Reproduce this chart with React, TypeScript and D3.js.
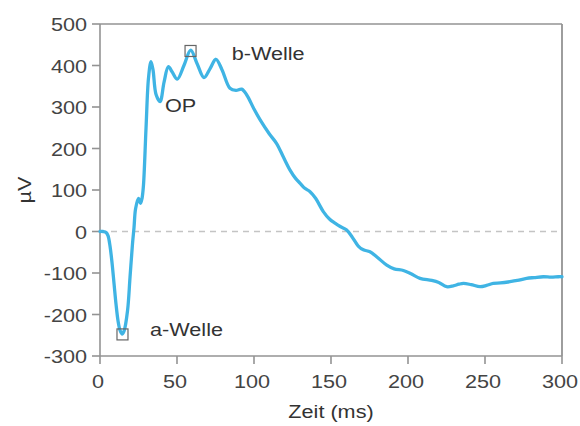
import React from "react";
import * as d3 from "d3";

const timeMs = [0, 2, 3.9, 5.2, 6.5, 7.8, 9.1, 10.4, 11.7, 13, 14.3, 15.6, 17.9, 19.5, 21.1, 22.1, 23.1, 25, 26.3, 27.3, 28.2, 29.9, 31.5, 33.1, 34.4, 36.4, 39, 41.6, 44.4, 46.8, 50.2, 54.5, 58.9, 63, 67.5, 71.4, 75.3, 79.2, 84.4, 88.3, 92, 95.3, 100, 104, 110, 114.7, 119, 123.4, 127, 130, 133, 136.4, 140, 145, 149, 152.6, 156, 160, 163.5, 167.7, 171, 175.3, 180, 186.2, 191, 197, 202, 207.8, 215.4, 220, 225.1, 229.4, 233, 236, 241, 246.8, 251, 255.4, 260, 266.2, 271, 277, 282, 287.9, 293, 297.6, 300];
const microVolt = [0, 0, -2, -10, -35, -75, -125, -175, -215, -238, -247, -240, -190, -110, -30, 10, 55, 80, 68, 80, 110, 250, 370, 409, 390, 330, 313, 360, 397, 385, 367, 400, 437, 405, 371, 392, 415, 390, 345, 340, 343, 329, 295, 269, 235, 212, 180, 148, 128, 116, 104, 96, 80, 48, 30, 20, 12, 4, -12, -35, -44, -49, -62, -81, -90, -94, -102, -113, -118, -123, -133, -131, -127, -125, -128, -133, -130, -125, -124, -121, -118, -113, -111, -109, -110, -109, -109];

const xTicks = [0, 50, 100, 150, 200, 250, 300];
const yTicks = [-300, -200, -100, 0, 100, 200, 300, 400, 500];

const markers = [
  { t: 14.6, v: -248 },
  { t: 58.8, v: 435 },
];
const labels = [
  { text: "b-Welle", t: 85.5, v: 413 },
  { text: "OP", t: 42.2, v: 289 },
  { text: "a-Welle", t: 32.5, v: -252 },
];

const W = 580;
const H = 426;
const SX = 1.17;
const FONT = "'Liberation Sans', Arial, Helvetica, sans-serif";

function T({ x, y, children, anchor = "start", fill = "#333", size = 18.5, rotate = 0, baseline = "auto" }: any) {
  return (
    <text
      transform={`translate(${x},${y}) rotate(${rotate}) scale(${SX},1)`}
      textAnchor={anchor}
      dominantBaseline={baseline}
      fill={fill}
      fontSize={size}
      fontFamily={FONT}
    >
      {children}
    </text>
  );
}

export default function App() {
  const x = d3.scaleLinear().domain([0, 300]).range([100, 562]);
  const y = d3.scaleLinear().domain([-300, 500]).range([356, 24]);
  const pts: [number, number][] = timeMs.map((t, i) => [t, microVolt[i]]);
  const line = d3
    .line<[number, number]>()
    .x((d) => x(d[0]))
    .y((d) => y(d[1]))
    .curve(d3.curveCatmullRom.alpha(0.5));
  const axisColor = "#939393";
  const [x0, x1] = x.range();
  const [yb, yt] = y.range();
  return (
    <svg width={W} height={H} style={{ position: "absolute", left: 0, top: 0 }}>
      <rect width={W} height={H} fill="#fff" />
      <line x1={x0} x2={x1} y1={y(0)} y2={y(0)} stroke="#c4c4c4" strokeWidth={1.3} strokeDasharray="6,5" />
      <line x1={x0} x2={x0} y1={yt} y2={yb} stroke={axisColor} strokeWidth={1.6} />
      <line x1={x0} x2={x1} y1={yb} y2={yb} stroke={axisColor} strokeWidth={1.6} />
      <line x1={x0} x2={x1} y1={yt} y2={yt} stroke={axisColor} strokeWidth={1.6} />
      <line x1={x1} x2={x1} y1={yt} y2={yb} stroke={axisColor} strokeWidth={1.8} />
      {yTicks.map((v) => (
        <g key={"y" + v}>
          <line x1={x0 - 8} x2={x0} y1={y(v)} y2={y(v)} stroke={axisColor} strokeWidth={1.6} />
          <T x={x0 - 13} y={y(v) + 1} anchor="end" baseline="central" fill="#444">
            {v}
          </T>
        </g>
      ))}
      {xTicks.map((v) => (
        <g key={"x" + v}>
          <line x1={x(v)} x2={x(v)} y1={yb} y2={yb + 8} stroke={axisColor} strokeWidth={1.6} />
          <T x={x(v) - 2} y={388} anchor="middle" fill="#444">
            {v}
          </T>
        </g>
      ))}
      <T x={331} y={418} anchor="middle" fill="#333">
        Zeit (ms)
      </T>
      <T x={31} y={190} anchor="middle" fill="#333" rotate={-90}>
        µV
      </T>
      <path d={line(pts) || ""} fill="none" stroke="#3fb4e4" strokeWidth={3.3} strokeLinejoin="round" strokeLinecap="round" />
      {markers.map((m, i) => (
        <rect key={i} x={x(m.t) - 5.5} y={y(m.v) - 5.5} width={11} height={11} fill="none" stroke="#666" strokeWidth={1.2} />
      ))}
      {labels.map((l) => (
        <T key={l.text} x={x(l.t)} y={y(l.v)} fill="#333">
          {l.text}
        </T>
      ))}
    </svg>
  );
}
